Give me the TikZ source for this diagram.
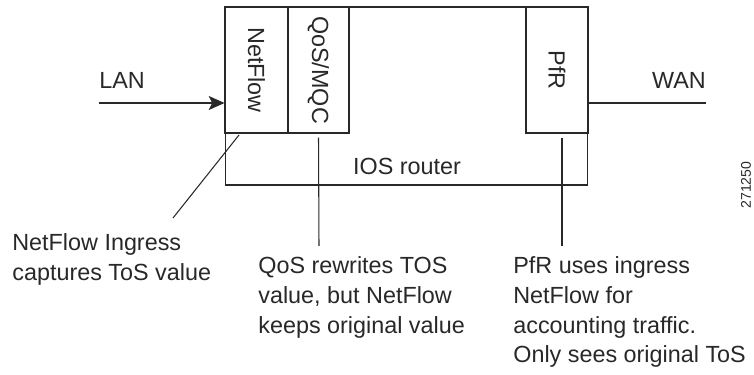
\documentclass[tikz,border=0pt]{standalone}
\usepackage{fontspec}
\setmainfont{Liberation Sans}
\usetikzlibrary{positioning,arrows.meta,calc}
\definecolor{inkline}{RGB}{40,40,40}

\begin{document}
\begin{tikzpicture}[x=0.02cm, y=-0.02cm,
  every node/.style={font=\fontsize{13.3}{17}\selectfont, text=inkline},
  part/.style={draw=inkline, line width=0.6pt, rotate=-90, inner sep=0pt,
    minimum width=2.52cm},
  note/.style={anchor=north west, inner sep=0pt, align=left},
  lead/.style={draw=inkline, line width=0.6pt}
]
\useasboundingbox (0,0) rectangle (754,375);
% router frame and its three parts
\node[draw=inkline, line width=0.6pt, minimum width=7.26cm, minimum height=3.56cm,
  inner sep=0pt] (router) at (406.5,96) {};
\node[part, minimum height=1.26cm] (nf) at (256.5,70) {NetFlow};
\node[part, minimum height=1.22cm] (qos) at (318.5,70) {QoS/MQC};
\node[part, minimum height=1.24cm] (pfr) at (557,70) {PfR};
\node (ios) at (407,166) {IOS router};

% LAN in, WAN out
\node (lan) at (122,80) {LAN};
\coordinate (lanin) at (99,103);
\draw[lead, -{Stealth[length=9pt,width=8pt,inset=2pt]}] (lanin) -- (lanin -| router.west);
\node (wan) at (679,80) {WAN};
\coordinate (wanout) at (706,103);
\draw[lead] (wanout -| router.east) -- (wanout);

% notes
\node[note] (nfnote) at (12,233) {NetFlow Ingress\\captures ToS value};
\node[note] (qosnote) at (258,256) {QoS rewrites TOS\\value, but NetFlow\\keeps original value};
\node[note] (pfrnote) at (513,256) {PfR uses ingress\\NetFlow for\\accounting traffic.\\Only sees original ToS};

\coordinate (nftip) at (239,135);
\coordinate (nfend) at (173,218);
\draw[lead] (nftip) -- (nfend);
\draw[lead] ($(qos.east)+(0,4)$) -- (319,246);
\draw[lead] ($(pfr.east)+(5,4)$) -- (562,246);

% figure number
\node[rotate=90, font=\fontsize{8}{10}\selectfont] (fignum) at (746,185) {271250};
\end{tikzpicture}
\end{document}
